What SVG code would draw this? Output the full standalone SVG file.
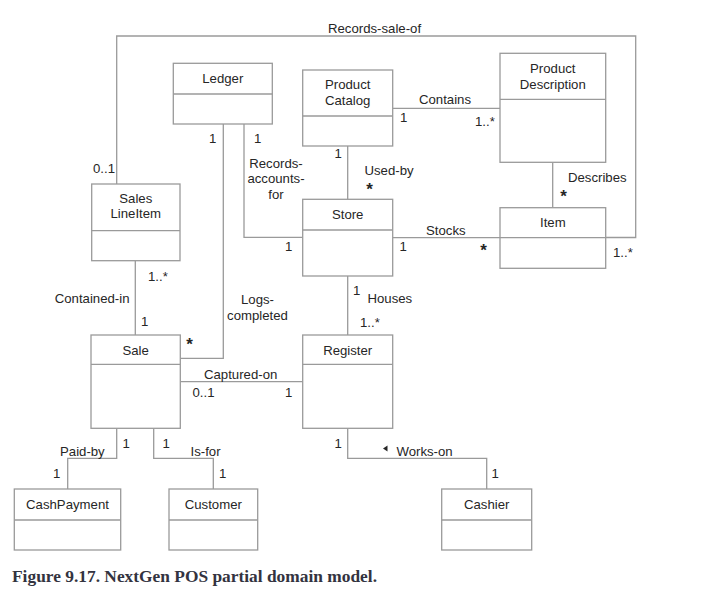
<svg xmlns="http://www.w3.org/2000/svg" width="716" height="615" viewBox="0 0 716 615">
<style>
.box{fill:#fff;stroke:#9a9a9a;stroke-width:1.3}
.div{stroke:#9a9a9a;stroke-width:1.3}
.con{fill:none;stroke:#9a9a9a;stroke-width:1.3}
text{font-family:"Liberation Sans",Arial,sans-serif;font-size:13.2px;fill:#262626}
.c{text-anchor:middle}
.star{font-size:17px;font-weight:bold}
.cap{font-family:"Liberation Serif","DejaVu Serif",serif;font-size:17px;font-weight:bold;fill:#333340}
</style>
<rect width="716" height="615" fill="#fff"/>
<g id="connectors">
<polyline class="con" points="116.7,184 116.7,36 635.7,36 635.7,237.5 605.7,237.5"/>
<line class="con" x1="392.7" y1="108.3" x2="500" y2="108.3"/>
<line class="con" x1="347.7" y1="146" x2="347.7" y2="199.3"/>
<line class="con" x1="552.7" y1="162.3" x2="552.7" y2="207.7"/>
<line class="con" x1="392.7" y1="237.7" x2="500" y2="237.7"/>
<polyline class="con" points="244,124 244,237.3 302.7,237.3"/>
<polyline class="con" points="223.3,124 223.3,358.3 180.3,358.3"/>
<line class="con" x1="135.3" y1="260.7" x2="135.3" y2="335"/>
<line class="con" x1="347.7" y1="276" x2="347.7" y2="335"/>
<line class="con" x1="180.3" y1="381.7" x2="302.7" y2="381.7"/>
<polyline class="con" points="116.7,428.3 116.7,458.3 67.7,458.3 67.7,489"/>
<polyline class="con" points="153.7,428.3 153.7,458.3 213.3,458.3 213.3,489"/>
<polyline class="con" points="347.7,428.3 347.7,458.3 486.7,458.3 486.7,489"/>
<polygon points="383,448.5 387.5,445.5 387.5,451.5" fill="#262626"/>
<text x="328" y="33">Records-sale-of</text>
<text x="419" y="104">Contains</text>
<text x="400" y="121.5">1</text>
<text x="475" y="126">1..*</text>
<text x="334.5" y="157.5">1</text>
<text x="364.5" y="174.5">Used-by</text>
<text x="369.5" y="194.5" class="star c">*</text>
<text x="276" y="167.5" class="c">Records-</text>
<text x="276" y="183" class="c">accounts-</text>
<text x="276" y="198.5" class="c">for</text>
<text x="209" y="142.5">1</text>
<text x="254" y="142.5">1</text>
<text x="93" y="172.5">0..1</text>
<text x="285" y="251">1</text>
<text x="568" y="182">Describes</text>
<text x="563.5" y="201.5" class="star c">*</text>
<text x="426" y="234.5">Stocks</text>
<text x="399.5" y="251">1</text>
<text x="483.5" y="255.5" class="star c">*</text>
<text x="613" y="256.5">1..*</text>
<text x="148" y="280.5">1..*</text>
<text x="129.5" y="303" style="text-anchor:end">Contained-in</text>
<text x="141" y="326">1</text>
<text x="257.5" y="304" class="c">Logs-</text>
<text x="257.5" y="320" class="c">completed</text>
<text x="189.5" y="349.5" class="star c">*</text>
<text x="353" y="295">1</text>
<text x="367.5" y="302.5">Houses</text>
<text x="360" y="326.5">1..*</text>
<text x="204" y="378.5">Captured-on</text>
<text x="192.5" y="397">0..1</text>
<text x="285" y="397">1</text>
<text x="122.5" y="447.5">1</text>
<text x="60" y="456">Paid-by</text>
<text x="162.5" y="447.5">1</text>
<text x="190.5" y="456">Is-for</text>
<text x="53" y="478">1</text>
<text x="219" y="478">1</text>
<text x="334.5" y="447.5">1</text>
<text x="396.5" y="456">Works-on</text>
<text x="491.5" y="478">1</text>
</g>
<g id="ledger">
<rect class="box" x="173.3" y="63.3" width="99" height="60.7"/>
<line class="div" x1="173.3" y1="94" x2="272.3" y2="94"/>
<text x="222.8" y="83" class="c">Ledger</text>
</g>
<g id="product-catalog">
<rect class="box" x="302.7" y="70" width="90" height="76"/>
<line class="div" x1="302.7" y1="116" x2="392.7" y2="116"/>
<text x="347.7" y="88.5" class="c">Product</text>
<text x="347.7" y="104.5" class="c">Catalog</text>
</g>
<g id="product-description">
<rect class="box" x="500" y="53.3" width="105.7" height="109"/>
<line class="div" x1="500" y1="99.3" x2="605.7" y2="99.3"/>
<text x="552.8" y="72.5" class="c">Product</text>
<text x="552.8" y="88.5" class="c">Description</text>
</g>
<g id="sales-line-item">
<rect class="box" x="91.7" y="184" width="88.3" height="76.7"/>
<line class="div" x1="91.7" y1="230.7" x2="180" y2="230.7"/>
<text x="135.8" y="202.5" class="c">Sales</text>
<text x="135.8" y="218" class="c">LineItem</text>
</g>
<g id="store">
<rect class="box" x="302.7" y="199.3" width="90" height="76.7"/>
<line class="div" x1="302.7" y1="230" x2="392.7" y2="230"/>
<text x="347.7" y="218.5" class="c">Store</text>
</g>
<g id="item">
<rect class="box" x="500" y="207.7" width="105.7" height="60.6"/>
<line class="div" x1="500" y1="237.7" x2="605.7" y2="237.7"/>
<text x="552.8" y="226.5" class="c">Item</text>
</g>
<g id="sale">
<rect class="box" x="91" y="335" width="89.3" height="93.3"/>
<line class="div" x1="91" y1="364.3" x2="180.3" y2="364.3"/>
<text x="135.6" y="354.5" class="c">Sale</text>
</g>
<g id="register">
<rect class="box" x="302.7" y="335" width="90" height="93.3"/>
<line class="div" x1="302.7" y1="364.3" x2="392.7" y2="364.3"/>
<text x="347.7" y="354.5" class="c">Register</text>
</g>
<g id="cash-payment">
<rect class="box" x="14.3" y="489" width="106.4" height="61"/>
<line class="div" x1="14.3" y1="520" x2="120.7" y2="520"/>
<text x="67.5" y="508.5" class="c">CashPayment</text>
</g>
<g id="customer">
<rect class="box" x="169" y="489" width="88.7" height="61"/>
<line class="div" x1="169" y1="520" x2="257.7" y2="520"/>
<text x="213.3" y="508.5" class="c">Customer</text>
</g>
<g id="cashier">
<rect class="box" x="441.7" y="489" width="90" height="61"/>
<line class="div" x1="441.7" y1="520" x2="531.7" y2="520"/>
<text x="486.7" y="508.5" class="c">Cashier</text>
</g>
<text x="12" y="582" class="cap" textLength="365" lengthAdjust="spacingAndGlyphs">Figure 9.17. NextGen POS partial domain model.</text>
</svg>
